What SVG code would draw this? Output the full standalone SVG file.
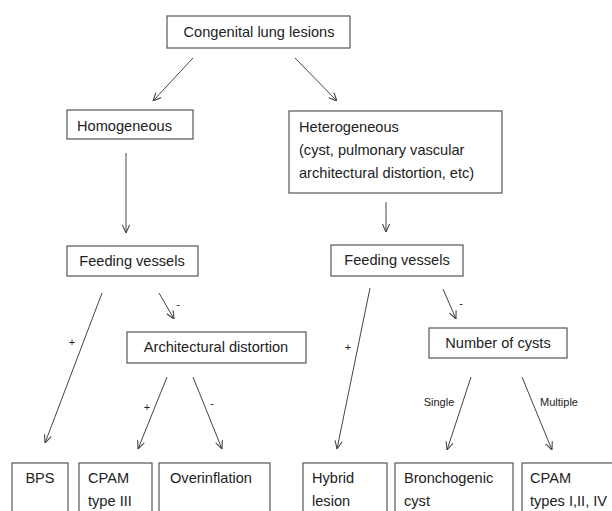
<svg xmlns="http://www.w3.org/2000/svg" width="612" height="511" viewBox="0 0 612 511">
<style>
.box{fill:#fff;stroke:#555;stroke-width:1.2}
text{font-family:"Liberation Sans","Open Sans",sans-serif;font-size:14.6px;fill:#222}
.c{text-anchor:middle}
.lbl{font-size:11px}
.con line{stroke:#444;stroke-width:1}
</style>
<defs>
<marker id="ah" viewBox="0 0 10 10" refX="10" refY="5" markerWidth="9" markerHeight="9" orient="auto" markerUnits="userSpaceOnUse">
<polyline points="1,1 10,5 1,9" fill="none" stroke="#444" stroke-width="1.2"/>
</marker>
</defs>
<rect width="612" height="511" fill="#fff"/>
<g id="n-top"><rect class="box" x="167" y="16" width="183" height="32"/><text class="c" x="259" y="37">Congenital lung lesions</text></g>
<g id="n-homog"><rect class="box" x="67" y="110" width="126" height="29"/><text x="77" y="131">Homogeneous</text></g>
<g id="n-heterog"><rect class="box" x="289" y="111" width="213" height="82"/><text x="299" y="132">Heterogeneous</text><text x="299" y="155">(cyst, pulmonary vascular</text><text x="299" y="178">architectural distortion, etc)</text></g>
<g id="n-feed1"><rect class="box" x="67" y="246" width="131" height="30"/><text class="c" x="132" y="266">Feeding vessels</text></g>
<g id="n-feed2"><rect class="box" x="331" y="245" width="132" height="31"/><text class="c" x="397" y="265">Feeding vessels</text></g>
<g id="n-arch"><rect class="box" x="127" y="332" width="179" height="31"/><text class="c" x="216" y="352">Architectural distortion</text></g>
<g id="n-cysts"><rect class="box" x="429" y="328" width="138" height="30"/><text class="c" x="498" y="348">Number of cysts</text></g>
<g id="n-bps"><rect class="box" x="12" y="463" width="56" height="60"/><text class="c" x="40" y="483">BPS</text></g>
<g id="n-cpam3"><rect class="box" x="79" y="463" width="73" height="60"/><text x="88" y="483">CPAM</text><text x="88" y="506">type III</text></g>
<g id="n-overinf"><rect class="box" x="159" y="463" width="111" height="60"/><text x="170" y="483">Overinflation</text></g>
<g id="n-hybrid"><rect class="box" x="303" y="463" width="84" height="60"/><text x="312" y="483">Hybrid</text><text x="312" y="506">lesion</text></g>
<g id="n-broncho"><rect class="box" x="395" y="463" width="118" height="60"/><text x="404" y="483">Bronchogenic</text><text x="404" y="506">cyst</text></g>
<g id="n-cpam124"><rect class="box" x="522" y="463" width="100" height="60"/><text x="530" y="483">CPAM</text><text x="530" y="506">types I,II, IV</text></g>
<g id="connectors" class="con">
<line x1="193" y1="58" x2="153" y2="101" marker-end="url(#ah)"/>
<line x1="295" y1="58" x2="337" y2="101" marker-end="url(#ah)"/>
<line x1="126" y1="153" x2="126" y2="233" marker-end="url(#ah)"/>
<line x1="386" y1="202" x2="386" y2="232" marker-end="url(#ah)"/>
<line x1="102" y1="293" x2="45" y2="443" marker-end="url(#ah)"/>
<line x1="159" y1="293" x2="174" y2="319" marker-end="url(#ah)"/>
<line x1="167" y1="377" x2="138" y2="449" marker-end="url(#ah)"/>
<line x1="193" y1="377" x2="222" y2="449" marker-end="url(#ah)"/>
<line x1="370" y1="288" x2="337" y2="449" marker-end="url(#ah)"/>
<line x1="443" y1="289" x2="456" y2="319" marker-end="url(#ah)"/>
<line x1="471" y1="377" x2="447" y2="450" marker-end="url(#ah)"/>
<line x1="522" y1="377" x2="552" y2="450" marker-end="url(#ah)"/>
<text class="lbl c" x="72" y="346">+</text>
<text class="lbl c" x="178" y="308">-</text>
<text class="lbl c" x="147" y="411">+</text>
<text class="lbl c" x="212" y="407">-</text>
<text class="lbl c" x="348" y="351">+</text>
<text class="lbl c" x="461" y="307">-</text>
<text class="lbl c" x="439" y="406">Single</text>
<text class="lbl c" x="559" y="406">Multiple</text>
</g>
</svg>
